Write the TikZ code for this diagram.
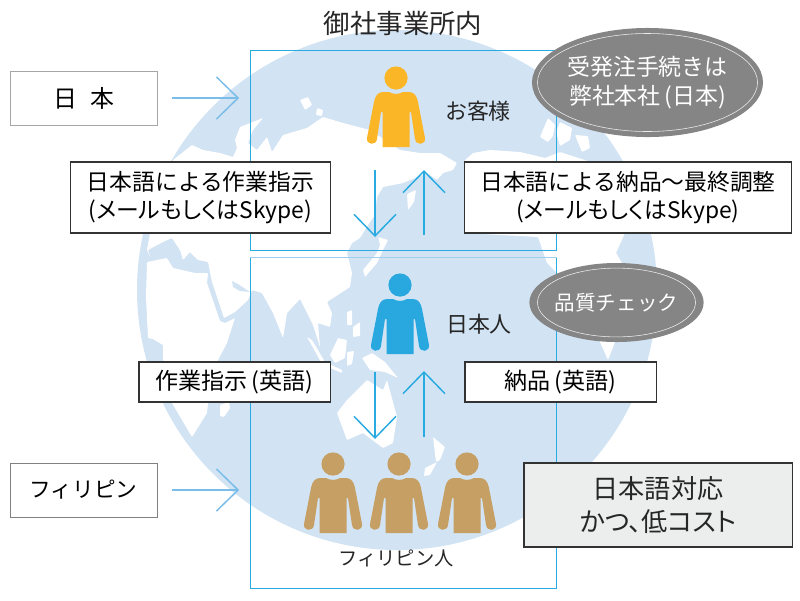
\documentclass[tikz,border=0pt]{standalone}
\usepackage{fontspec}
\usepackage{xcolor}
\usetikzlibrary{arrows.meta, shapes.geometric}
\setmainfont{Noto Sans CJK JP}
\definecolor{globeblue}{RGB}{210,227,243}
\definecolor{framecyan}{RGB}{41,171,226}
\definecolor{framepale}{RGB}{160,207,238}
\definecolor{arrowpale}{RGB}{122,189,232}
\definecolor{ovalgray}{RGB}{133,133,133}
\definecolor{notegray}{RGB}{236,238,238}
\definecolor{custorange}{RGB}{251,182,39}
\definecolor{staffblue}{RGB}{41,168,224}
\definecolor{workertan}{RGB}{198,159,100}
\newcommand{\fs}[1]{\fontsize{#1}{1.25\dimexpr#1pt\relax}\selectfont}
\newcommand{\tight}{\addfontfeature{RawFeature=+palt}}
\newcommand{\person}[2]{%
	\fill[#2] (#1) circle (11.6);
	\fill[#2, shift={(#1)}] (-7,14) .. controls (-3,16.5) and (3,16.5) .. (7,14) -- (13,14)
		.. controls (18,14) and (21,18) .. (22,24) -- (29,60)
		.. controls (30,67) and (20,68) .. (19,61) -- (15,34) -- (13.5,34) -- (13.5,69)
		-- (-13.5,69) -- (-13.5,34) -- (-15,34) -- (-19,61)
		.. controls (-20,68) and (-30,67) .. (-29,60) -- (-22,24)
		.. controls (-21,18) and (-18,14) .. (-13,14) -- cycle;
}
\begin{document}
\begin{tikzpicture}[
		x=0.025cm, y=-0.025cm,
		land/.style={fill=white, rounded corners=0.6pt},
		framebox/.style={draw=framecyan, line width=0.7pt, minimum width=7.65cm},
		labelbox/.style={draw=black!80, fill=white, line width=0.75pt, align=center, inner sep=0pt},
		placebox/.style={labelbox, draw=black!35, line width=0.65pt, minimum width=3.675cm, minimum height=1.35cm},
		oval/.style={ellipse, fill=ovalgray, text=white, align=center, inner sep=0pt},
		ovalring/.style={ellipse, draw=white!85!ovalgray, line width=0.4pt, inner sep=0pt},
		caption/.style={inner sep=0pt, text=black!85},
		hflow/.style={-{Straight Barb[length=0.54cm, width=1.05cm, line width=1.05pt]}, draw=arrowpale, line width=1.05pt},
		vflow/.style={-{Straight Barb[length=0.54cm, width=1.05cm, line width=1.05pt]}, draw=framecyan, line width=1.05pt}
	]
	\useasboundingbox (0,0) rectangle (800,600);
	% globe
	\fill[globeblue] (397,290) circle (260);
	\path[land] (173,160) -- (192,145) -- (203,150) -- (220,153) -- (233,157) -- (237,148) -- (235,140) -- (240,127)
		-- (263,118) -- (253,130) -- (248,143) -- (257,150) -- (267,137) -- (272,152) -- (283,135) -- (307,128)
		-- (323,117) -- (343,123) -- (370,130) -- (400,150) -- (420,153) -- (440,153) -- (457,163) -- (453,170)
		-- (443,173) -- (437,180) -- (427,173) -- (403,183) -- (383,187) -- (377,197) -- (375,215) -- (368,225)
		-- (360,238) -- (352,243) -- (347,253) -- (352,273) -- (350,287) -- (327,302) -- (332,313) -- (330,327)
		-- (318,323) -- (320,347) -- (313,325) -- (307,313) -- (300,299) -- (287,313) -- (283,338) -- (273,313)
		-- (262,293) -- (252,290) -- (248,300) -- (235,312) -- (224,318) -- (212,282) -- (208,262) -- (198,260)
		-- (190,252) -- (183,260) -- (180,250) -- (172,238) -- (163,242) -- (148,250) -- (150,257) -- (147,250)
		-- (150,233) -- cycle;
	\path[land] (147,262) -- (167,258) -- (173,268) -- (195,273) -- (208,273) -- (207,283) -- (220,321) -- (225,323)
		-- (235,318) -- (227,343) -- (218,360) -- (208,403) -- (207,413) -- (192,437) -- (172,403) -- (165,375)
		-- (163,358) -- (163,345) -- (153,339) -- (148,338) -- (146,297) -- cycle;
	\fill[globeblue] (232,281) -- (238,284) -- (250,292) -- (240,291) -- (233,287) -- cycle;
	\path[land] (220,405) -- (229,402) -- (230,408) -- (224,417) -- (220,416) -- cycle;
	\path[land] (465,160) -- (473,153) -- (490,150) -- (520,152) -- (545,158) -- (560,152) -- (600,165) -- (625,233)
		-- (616,253) -- (622,263) -- (615,342) -- (608,360) -- (600,342) -- (557,273) -- (547,263) -- (538,237)
		-- (465,233) -- cycle;
	% islands
	\path[land] (300,100) -- (308,97) -- (312,105) -- (305,110) -- cycle;
	\path[land] (317,108) -- (323,110) -- (322,116) -- (316,115) -- cycle;
	\path[land] (540,137) -- (548,118) -- (555,125) -- (553,136) -- (548,142) -- cycle;
	\path[land] (560,122) -- (572,128) -- (570,140) -- (560,146) -- (556,132) -- cycle;
	\path[land] (575,135) -- (588,136) -- (590,148) -- (582,152) -- cycle;
	\path[land] (407,194) -- (416,190) -- (414,202) -- (408,210) -- cycle;
	\path[land] (388,240) -- (383,250) -- (377,263) -- (365,277) -- (363,270) -- (377,253) -- (380,245) -- (378,237) -- cycle;
	\path[land] (347,312) -- (352,310) -- (352,325) -- (347,325) -- cycle;
	\path[land] (353,327) -- (360,322) -- (360,336) -- (353,337) -- cycle;
	\path[land] (330,355) -- (338,338) -- (347,340) -- (345,358) -- (335,363) -- cycle;
	\path[land] (307,337) -- (312,340) -- (325,362) -- (321,362) -- cycle;
	\path[land] (327,363) -- (342,370) -- (342,373) -- (328,367) -- cycle;
	\path[land] (347,352) -- (354,351) -- (352,364) -- (347,366) -- cycle;
	\path[land] (362,358) -- (372,353) -- (385,362) -- (398,378) -- (385,372) -- (370,370) -- cycle;
	\path[land] (367,380) -- (383,390) -- (387,380) -- (397,417) -- (393,443) -- (383,448) -- (363,433) -- (347,440)
		-- (337,413) -- (347,400) -- cycle;
	\path[land] (433,437) -- (445,447) -- (440,460) -- (436,462) -- cycle;
	\path[land] (437,462) -- (430,475) -- (424,476) -- (425,468) -- cycle;

	% frames
	\node[framebox, minimum height=5cm] (upframe) at (403.5,150.5) {};
	\node[framebox, minimum height=8.25cm] (lowframe) at (403.5,423) {};
	\draw[framepale, line width=1.2pt] (lowframe.north west) -- (lowframe.north east);

	% people
	\person{396,78}{custorange}
	\person{400,285}{staffblue}
	\person{333,464}{workertan}
	\person{399,464}{workertan}
	\person{467,464}{workertan}

	% captions
	\node[caption, font=\fs{18.8}] (office) at (403,23) {御社事業所内};
	\node[caption, font=\fs{15.6}] (customer) at (478,111) {お客様};
	\node[caption, font=\fs{15.6}] (japanese) at (479,324) {日本人};
	\node[caption, font=\fs{13.7}] (filipino) at (396,558) {フィリピン人};

	% boxes
	\node[placebox, font=\fs{17}] (japan) at (83.5,98) {日\hspace{0.55em}本};
	\node[placebox, draw=black!50, font=\fs{15.4}] (philippines) at (83.5,490) {フィリピン};
	\node[labelbox, minimum width=6.475cm, minimum height=1.775cm, font=\fs{16.2}] (orderjp) at (200.5,197.5) {日本語による作業指示\\{\tight (メールもしくはSkype)}};
	\node[labelbox, minimum width=8.15cm, minimum height=1.775cm, font=\fs{16.2}] (deliverjp) at (628,197.5) {日本語による納品～最終調整\\{\tight (メールもしくはSkype)}};
	\node[labelbox, minimum width=4.775cm, minimum height=1cm, font=\fs{16.4}] (orderen) at (234.5,382) {作業指示\,(英語)};
	\node[labelbox, minimum width=4.775cm, minimum height=1cm, font=\fs{16.4}] (deliveren) at (560.5,382) {納品\,(英語)};
	\node[labelbox, fill=notegray, text=black!85, minimum width=6.7cm, minimum height=2.1cm, font=\fs{18.6}] (lowcost) at (658,505) {日本語対応\\{\tight かつ、低コスト}};

	% ovals
	\node[oval, minimum width=5.775cm, minimum height=2.725cm, font=\fs{16.3}] (headoffice) at (647.5,82.5) {受発注手続きは\\弊社本社\,(日本)};
	\node[ovalring, minimum width=5.5cm, minimum height=2.45cm] (headring) at (headoffice) {};
	\node[oval, minimum width=4.225cm, minimum height=1.975cm, font=\fs{14.6}] (quality) at (616.5,302.5) {品質チェック};
	\node[ovalring, minimum width=3.95cm, minimum height=1.72cm] (qualityring) at (quality) {};

	% connectors
	\coordinate (downA) at (375,170);
	\coordinate (downB) at (375,237);
	\coordinate (upA) at (424,235);
	\coordinate (upB) at (424,170);
	\coordinate (downC) at (375,372);
	\coordinate (downD) at (375,439);
	\coordinate (upC) at (424,437);
	\coordinate (upD) at (424,371);
	\draw[hflow, shorten <=0.375cm, shorten >=0.27cm] (japan.east) -- (japan.east -| upframe.west);
	\draw[hflow, shorten <=0.375cm, shorten >=0.27cm] (philippines.east) -- (philippines.east -| lowframe.west);
	\draw[vflow] (downA) -- (downB);
	\draw[vflow] (upA) -- (upB);
	\draw[vflow] (downC) -- (downD);
	\draw[vflow] (upC) -- (upD);
\end{tikzpicture}
\end{document}
